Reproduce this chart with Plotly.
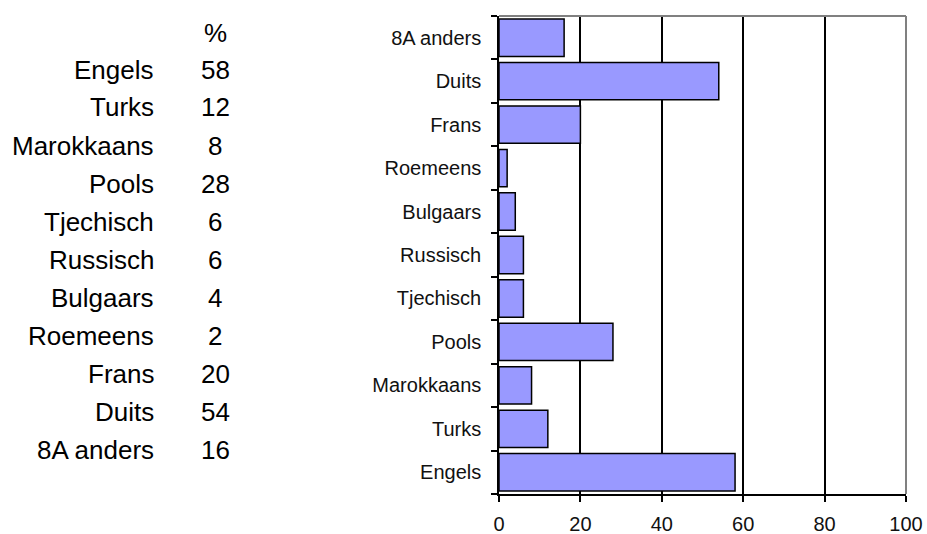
import plotly.graph_objects as go

categories = ["Engels", "Turks", "Marokkaans", "Pools", "Tjechisch", "Russisch",
              "Bulgaars", "Roemeens", "Frans", "Duits", "8A anders"]
values = [58, 12, 8, 28, 6, 6, 4, 2, 20, 54, 16]
x_ticks = [0, 20, 40, 60, 80, 100]
table_header = "%"

W, H = 927, 534
L, R, T, B = 499, 21, 16, 40

fig = go.Figure()
fig.add_trace(go.Bar(
    y=categories, x=values, orientation="h",
    marker=dict(color="#9999FF", line=dict(color="black", width=1.5)),
    hoverinfo="skip",
))

annotations = []
FONT = "Liberation Sans, Arial, sans-serif"
row0, step = 69.5, 38.0
PW, PH = W - L - R, H - T - B


def px_x(x):
    return (x - L) / PW


def px_y(y):
    return 1 - (y - T) / PH


annotations.append(dict(xref="paper", yref="paper", x=px_x(215), y=px_y(33),
                        text=table_header, showarrow=False,
                        xanchor="center", yanchor="middle",
                        font=dict(family=FONT, size=26, color="black")))
for i, (c, v) in enumerate(zip(categories, values)):
    yp = px_y(row0 + i * step)
    annotations.append(dict(xref="paper", yref="paper", x=px_x(156), y=yp,
                            text=c, showarrow=False, xanchor="right", yanchor="middle",
                            font=dict(family=FONT, size=26, color="black")))
    annotations.append(dict(xref="paper", yref="paper", x=px_x(215), y=yp,
                            text=str(v), showarrow=False, xanchor="center", yanchor="middle",
                            font=dict(family=FONT, size=26, color="black")))

fig.update_layout(
    width=W, height=H,
    margin=dict(l=L, r=R, t=T, b=B, pad=0, autoexpand=False),
    paper_bgcolor="white", plot_bgcolor="white",
    showlegend=False,
    bargap=0.14,
    annotations=annotations,
    xaxis=dict(range=[0, 100], tickvals=x_ticks, showgrid=True, gridcolor="black",
               gridwidth=1.5, zeroline=False, showline=True, linecolor="black", linewidth=1.5,
               ticks="outside", ticklen=6, tickcolor="black", tickwidth=1.5,
               ticklabelstandoff=5, automargin=False, fixedrange=True,
               tickfont=dict(family=FONT, size=20, color="#111111")),
    yaxis=dict(categoryorder="array", categoryarray=categories, showgrid=False,
               zeroline=False, showline=True, linecolor="black", linewidth=1.5,
               ticks="outside", ticklen=6, tickcolor="black", tickwidth=1.5,
               tickson="boundaries", ticklabelstandoff=12, automargin=False,
               fixedrange=True,
               tickfont=dict(family=FONT, size=20, color="#111111")),
    shapes=[
        dict(type="line", xref="paper", yref="paper", x0=0, x1=1, y0=1, y1=1,
             line=dict(color="#808080", width=2)),
        dict(type="line", xref="paper", yref="paper", x0=1, x1=1, y0=0, y1=1,
             line=dict(color="#808080", width=2)),
    ],
)

fig.write_html("out.html", config={"displayModeBar": False},
               post_script="document.body.style.margin='0';")
